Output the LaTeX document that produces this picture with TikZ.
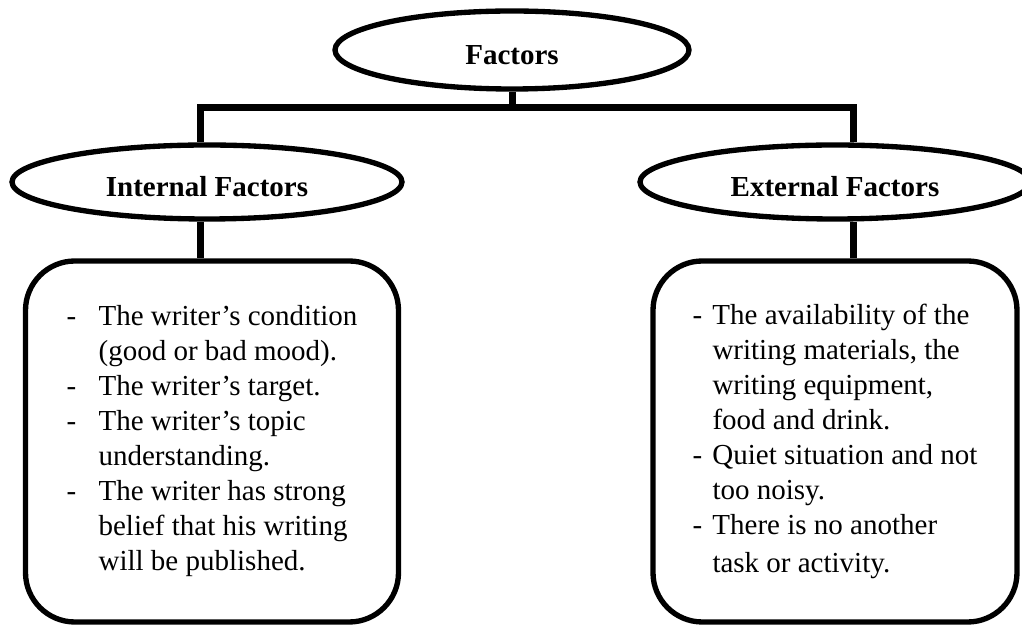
\documentclass[tikz,border=0pt]{standalone}
\usepackage{fontspec}
\setmainfont{Liberation Serif}
\usetikzlibrary{shapes.geometric}

\tikzset{
  factor/.style={ellipse, draw, line width=4pt, fill=white, inner sep=0pt,
    minimum width=292.5pt, minimum height=55.5pt, text height=21.75pt, text depth=0pt,
    font=\fontsize{21.75}{26.25}\selectfont\bfseries},
  itembox/.style={draw, rectangle, rounded corners=37pt, line width=4pt, inner sep=0pt,
    minimum height=270.75pt},
  link/.style={line width=5.25pt}
}

\begin{document}
\begin{tikzpicture}[x=0.75pt, y=-0.75pt, font=\fontsize{21.75}{26.25}\selectfont]
				\useasboundingbox (0,0) rectangle (1022,630);

				% ellipses
				\node[factor, minimum width=265.5pt, minimum height=58.5pt] (factors) at (512,50) {Factors};
				\node[factor] (internal) at (207,182) {Internal Factors};
				\node[factor] (external) at (835,182) {External Factors};

				% boxes
				\node[itembox, minimum width=279.75pt] (internalbox) at (212,441.5) {%
					\begin{tabular}{@{}p{24pt}@{}l@{}}
						- & The writer’s condition\\
						  & (good or bad mood).\\
						- & The writer’s target.\\
						- & The writer’s topic\\
						  & understanding.\\
						- & The writer has strong\\
						  & belief that his writing\\
						  & will be published.
					\end{tabular}};
				\node[itembox, minimum width=273pt] (externalbox) at (835,441.5) {%
					\begin{tabular}{@{}p{15pt}@{}l@{}}
						- & The availability of the\\
						  & writing materials, the\\
						  & writing equipment,\\
						  & food and drink.\\
						- & Quiet situation and not\\
						  & too noisy.\\
						- & There is no another\\[2pt]
						  & task or activity.
					\end{tabular}};

				% connectors
				\coordinate (bus) at (512,108);
				\coordinate (leftdrop) at (200,108);
				\coordinate (rightdrop) at (853,108);
				\draw[link] (factors.south) -- (bus);
				\draw[link] (bus) -- (leftdrop) -- (leftdrop |- internal.north);
				\draw[link] (bus) -- (rightdrop) -- (rightdrop |- external.north);
				\draw[link] (leftdrop |- internal.south) -- (leftdrop |- internalbox.north);
				\draw[link] (rightdrop |- external.south) -- (rightdrop |- externalbox.north);
			\end{tikzpicture}
\end{document}
